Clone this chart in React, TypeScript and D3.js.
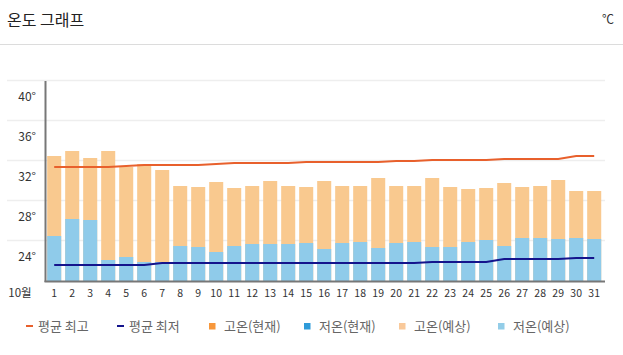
import React from "react";
import * as d3 from "d3";

const days = d3.range(1, 32).map(String);
const highForecast = [32.5, 33.0, 32.3, 33.0, 31.4, 31.7, 31.1, 29.5, 29.4, 29.9, 29.3, 29.5, 30.0, 29.5, 29.4, 30.0, 29.5, 29.5, 30.3, 29.5, 29.5, 30.3, 29.4, 29.2, 29.3, 29.8, 29.4, 29.5, 30.1, 29.0, 29.0];
const lowForecast = [24.5, 26.2, 26.1, 22.1, 22.4, 21.9, 21.9, 23.5, 23.4, 22.9, 23.5, 23.7, 23.7, 23.7, 23.8, 23.2, 23.8, 23.9, 23.3, 23.8, 23.9, 23.4, 23.4, 23.9, 24.1, 23.5, 24.3, 24.3, 24.2, 24.3, 24.2];
const avgHigh = [31.4, 31.4, 31.4, 31.4, 31.5, 31.6, 31.6, 31.6, 31.6, 31.7, 31.8, 31.8, 31.8, 31.8, 31.9, 31.9, 31.9, 31.9, 31.9, 32.0, 32.0, 32.1, 32.1, 32.1, 32.1, 32.2, 32.2, 32.2, 32.2, 32.5, 32.5];
const avgLow = [21.6, 21.6, 21.6, 21.6, 21.6, 21.6, 21.8, 21.8, 21.8, 21.8, 21.8, 21.8, 21.8, 21.8, 21.8, 21.8, 21.8, 21.8, 21.8, 21.8, 21.8, 21.9, 21.9, 21.9, 21.9, 22.2, 22.2, 22.2, 22.2, 22.3, 22.3];
const yTicks = [24, 28, 32, 36, 40];
const monthLabel = "10월";
const legendItems = [
  { label: "평균 최고", type: "line", color: "#e8602c", x: 26 },
  { label: "평균 최저", type: "line", color: "#14148c", x: 117 },
  { label: "고온(현재)", type: "rect", color: "#f7973b", x: 209 },
  { label: "저온(현재)", type: "rect", color: "#2e9bd9", x: 304 },
  { label: "고온(예상)", type: "rect", color: "#f9c99a", x: 399 },
  { label: "저온(예상)", type: "rect", color: "#93cde8", x: 498 },
];

const FONT = "'Noto Sans CJK KR', 'Noto Sans', sans-serif";

export default function App() {
  const W = 623, H = 355;
  const x = d3.scaleBand<string>().domain(days).range([45.2, 603.2]).paddingInner(0.22).paddingOuter(0.11);
  const y = d3.scaleLinear().domain([20, 40]).range([281, 81]);
  const cx = (d: string) => (x(d) as number) + x.bandwidth() / 2;
  const line = d3.line<number>().x((_, i) => cx(days[i])).y((v) => y(v));

  return (
    <svg width={W} height={H} style={{ position: "absolute", left: 0, top: 0, fontFamily: FONT }}>
      <rect width={W} height={H} fill="#fff" />
      <text x={7} y={26} fontSize={16} fill="#222">온도 그래프</text>
      <text x={614} y={24} fontSize={12} fill="#333" textAnchor="end">℃</text>
      <line x1={0} x2={W} y1={44.5} y2={44.5} stroke="#dcdcdc" />

      {yTicks.map((t) => (
        <g key={t}>
          <line x1={7} x2={605} y1={y(t) - 0.5} y2={y(t) - 0.5} stroke="#eeeeee" strokeWidth={1.5} />
          <text x={36} y={y(t) + 20} fontSize={12} fill="#333" textAnchor="end">{t}°</text>
        </g>
      ))}

      {days.map((d, i) => (
        <g key={d}>
          <rect x={x(d)} y={y(highForecast[i])} width={x.bandwidth()} height={281 - y(highForecast[i])} fill="#f9c98f" />
          <rect x={x(d)} y={y(lowForecast[i])} width={x.bandwidth()} height={281 - y(lowForecast[i])} fill="#8fcbea" />
          <text x={cx(d)} y={297} fontSize={10.5} fill="#333" textAnchor="middle">{d}</text>
        </g>
      ))}
      <text x={20} y={297} fontSize={11.5} fill="#333" textAnchor="middle">{monthLabel}</text>

      <path d={line(avgHigh) || ""} fill="none" stroke="#e8602c" strokeWidth={2} />
      <path d={line(avgLow) || ""} fill="none" stroke="#14148c" strokeWidth={2} />

      <line x1={45.5} x2={45.5} y1={81} y2={282} stroke="#777" strokeWidth={2} />
      <line x1={44.5} x2={605} y1={281.5} y2={281.5} stroke="#777" strokeWidth={2} />

      {legendItems.map((it) => (
        <g key={it.label}>
          {it.type === "line" ? (
            <line x1={it.x} x2={it.x + 7} y1={326} y2={326} stroke={it.color} strokeWidth={2} />
          ) : (
            <rect x={it.x} y={323} width={6.5} height={6.5} fill={it.color} />
          )}
          <text x={it.x + (it.type === "line" ? 12 : 15)} y={330.5} fontSize={13} fill="#666">{it.label}</text>
        </g>
      ))}
    </svg>
  );
}
